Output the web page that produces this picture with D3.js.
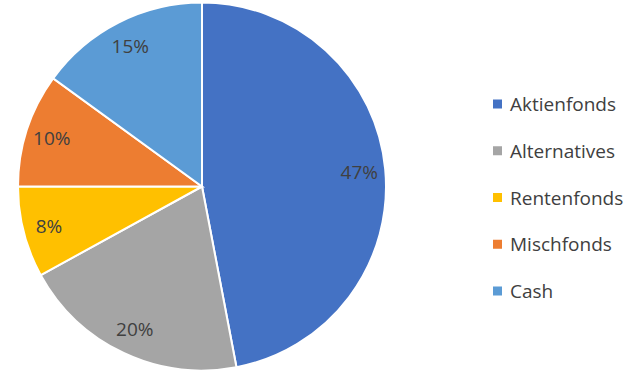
<!DOCTYPE html>
<html lang="de">
<head>
  <meta charset="UTF-8">
  <script src="https://cdn.jsdelivr.net/npm/d3@7"></script>
  <title>Pie</title>
  <style>
    body { margin: 0; background: #fff; }
    text { font-family: "Open Sans", "Liberation Sans", sans-serif; fill: #404040; }
  </style>
</head>
<body>
  <script>
    const categories = ["Aktienfonds", "Alternatives", "Rentenfonds", "Mischfonds", "Cash"];
    const values = [47, 20, 8, 10, 15];
    const colors = ["#4472C4", "#A5A5A5", "#FFC000", "#ED7D31", "#5B9BD5"];

    const width = 634, height = 377;
    const cx = 202, cy = 186.5, radius = 184;

    const svg = d3.select("body").append("svg")
      .attr("width", width)
      .attr("height", height);

    const pie = d3.pie().sort(null).value(d => d)(values);
    const arc = d3.arc().innerRadius(0).outerRadius(radius);
    const labelArc = d3.arc().innerRadius(158).outerRadius(158);

    const g = svg.append("g").attr("transform", `translate(${cx},${cy})`);

    g.selectAll("path").data(pie).enter().append("path")
      .attr("d", arc)
      .attr("fill", (d, i) => colors[i])
      .attr("stroke", "#fff")
      .attr("stroke-width", 2);

    g.selectAll("text.lbl").data(pie).enter().append("text")
      .attr("class", "lbl")
      .attr("x", d => labelArc.centroid(d)[0])
      .attr("y", d => labelArc.centroid(d)[1])
      .attr("text-anchor", "middle")
      .attr("dominant-baseline", "central")
      .style("font-size", "19px")
      .text(d => d.data + "%");

    // legend
    const ly = d3.scalePoint().domain(categories).range([104, 291]);
    const leg = svg.selectAll("g.leg").data(categories).enter().append("g")
      .attr("class", "leg")
      .attr("transform", d => `translate(493,${ly(d)})`);
    leg.append("rect")
      .attr("x", 0).attr("y", -4.5)
      .attr("width", 9).attr("height", 9)
      .attr("fill", (d, i) => colors[i]);
    leg.append("text")
      .attr("x", 17).attr("y", 0)
      .attr("dominant-baseline", "central")
      .style("font-size", "19px")
      .text(d => d);
  </script>
</body>
</html>
